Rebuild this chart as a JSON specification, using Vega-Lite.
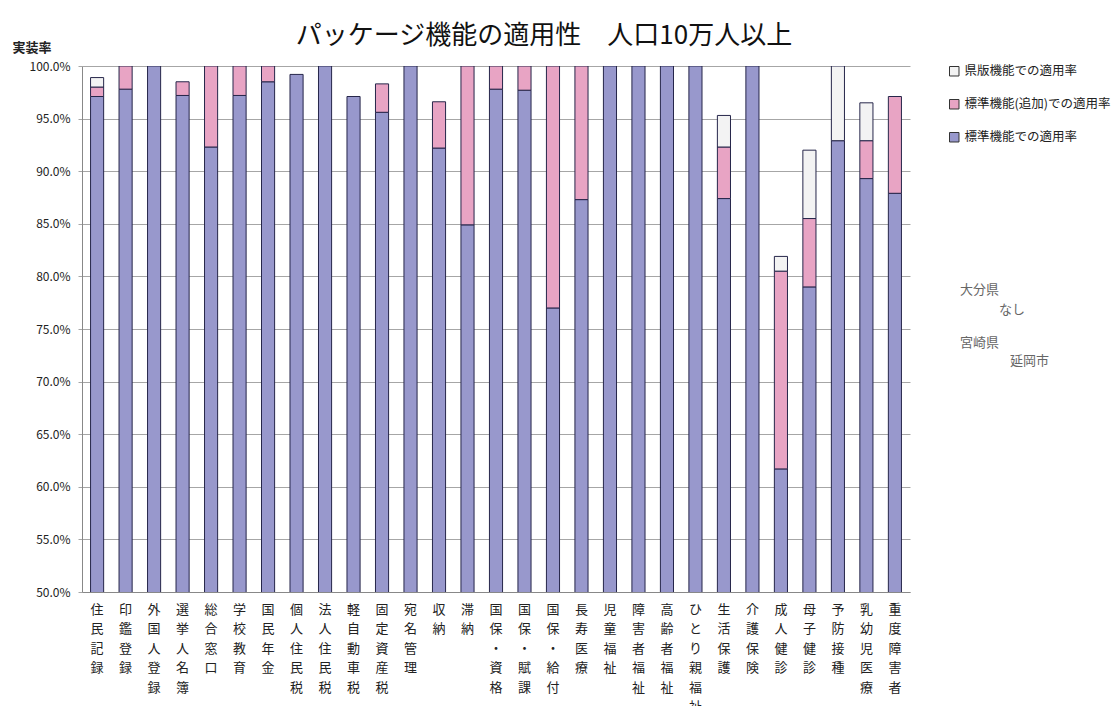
{
  "$schema": "https://vega.github.io/schema/vega-lite/v6.json",
  "width": 828,
  "height": 526,
  "autosize": "none",
  "padding": {"left": 82, "top": 66, "right": 201, "bottom": 114},
  "background": "white",
  "config": {"font": "Noto Sans CJK JP", "view": {"stroke": null}},
  "title": {"text": "パッケージ機能の適用性　人口10万人以上", "fontSize": 26, "fontWeight": "normal", "color": "#111", "anchor": "middle", "dx": 48, "offset": -8},
  "datasets": {
    "rates": [
      {"業務": "住民記録", "系列": "標準機能での適用率", "率": 0.971},
      {"業務": "住民記録", "系列": "標準機能（追加）での適用率", "率": 0.009},
      {"業務": "住民記録", "系列": "県版機能での適用率", "率": 0.009},
      {"業務": "印鑑登録", "系列": "標準機能での適用率", "率": 0.978},
      {"業務": "印鑑登録", "系列": "標準機能（追加）での適用率", "率": 0.022},
      {"業務": "外国人登録", "系列": "標準機能での適用率", "率": 1.0},
      {"業務": "選挙人名簿", "系列": "標準機能での適用率", "率": 0.972},
      {"業務": "選挙人名簿", "系列": "標準機能（追加）での適用率", "率": 0.013},
      {"業務": "総合窓口", "系列": "標準機能での適用率", "率": 0.923},
      {"業務": "総合窓口", "系列": "標準機能（追加）での適用率", "率": 0.077},
      {"業務": "学校教育", "系列": "標準機能での適用率", "率": 0.972},
      {"業務": "学校教育", "系列": "標準機能（追加）での適用率", "率": 0.028},
      {"業務": "国民年金", "系列": "標準機能での適用率", "率": 0.985},
      {"業務": "国民年金", "系列": "標準機能（追加）での適用率", "率": 0.015},
      {"業務": "個人住民税", "系列": "標準機能での適用率", "率": 0.992},
      {"業務": "法人住民税", "系列": "標準機能での適用率", "率": 1.0},
      {"業務": "軽自動車税", "系列": "標準機能での適用率", "率": 0.971},
      {"業務": "固定資産税", "系列": "標準機能での適用率", "率": 0.956},
      {"業務": "固定資産税", "系列": "標準機能（追加）での適用率", "率": 0.027},
      {"業務": "宛名管理", "系列": "標準機能での適用率", "率": 1.0},
      {"業務": "収納", "系列": "標準機能での適用率", "率": 0.922},
      {"業務": "収納", "系列": "標準機能（追加）での適用率", "率": 0.044},
      {"業務": "滞納", "系列": "標準機能での適用率", "率": 0.849},
      {"業務": "滞納", "系列": "標準機能（追加）での適用率", "率": 0.151},
      {"業務": "国保・資格", "系列": "標準機能での適用率", "率": 0.978},
      {"業務": "国保・資格", "系列": "標準機能（追加）での適用率", "率": 0.022},
      {"業務": "国保・賦課", "系列": "標準機能での適用率", "率": 0.977},
      {"業務": "国保・賦課", "系列": "標準機能（追加）での適用率", "率": 0.023},
      {"業務": "国保・給付", "系列": "標準機能での適用率", "率": 0.770},
      {"業務": "国保・給付", "系列": "標準機能（追加）での適用率", "率": 0.230},
      {"業務": "長寿医療", "系列": "標準機能での適用率", "率": 0.873},
      {"業務": "長寿医療", "系列": "標準機能（追加）での適用率", "率": 0.127},
      {"業務": "児童福祉", "系列": "標準機能での適用率", "率": 1.0},
      {"業務": "障害者福祉", "系列": "標準機能での適用率", "率": 1.0},
      {"業務": "高齢者福祉", "系列": "標準機能での適用率", "率": 1.0},
      {"業務": "ひとり親福祉", "系列": "標準機能での適用率", "率": 1.0},
      {"業務": "生活保護", "系列": "標準機能での適用率", "率": 0.874},
      {"業務": "生活保護", "系列": "標準機能（追加）での適用率", "率": 0.049},
      {"業務": "生活保護", "系列": "県版機能での適用率", "率": 0.030},
      {"業務": "介護保険", "系列": "標準機能での適用率", "率": 1.0},
      {"業務": "成人健診", "系列": "標準機能での適用率", "率": 0.617},
      {"業務": "成人健診", "系列": "標準機能（追加）での適用率", "率": 0.188},
      {"業務": "成人健診", "系列": "県版機能での適用率", "率": 0.014},
      {"業務": "母子健診", "系列": "標準機能での適用率", "率": 0.790},
      {"業務": "母子健診", "系列": "標準機能（追加）での適用率", "率": 0.065},
      {"業務": "母子健診", "系列": "県版機能での適用率", "率": 0.065},
      {"業務": "予防接種", "系列": "標準機能での適用率", "率": 0.929},
      {"業務": "予防接種", "系列": "県版機能での適用率", "率": 0.071},
      {"業務": "乳幼児医療", "系列": "標準機能での適用率", "率": 0.893},
      {"業務": "乳幼児医療", "系列": "標準機能（追加）での適用率", "率": 0.036},
      {"業務": "乳幼児医療", "系列": "県版機能での適用率", "率": 0.036},
      {"業務": "重度障害者", "系列": "標準機能での適用率", "率": 0.879},
      {"業務": "重度障害者", "系列": "標準機能（追加）での適用率", "率": 0.092}
    ]
  },
  "layer": [
    {
      "data": {"name": "rates"},
      "mark": {"type": "bar", "clip": true, "stroke": "#26264a", "strokeWidth": 1},
      "encoding": {
        "x": {
          "field": "業務", "type": "nominal", "sort": null,
          "scale": {"paddingInner": 0.54, "paddingOuter": 0.3},
          "axis": {"title": null, "labelAngle": 0, "labelExpr": "split(datum.label, '')", "labelBaseline": "top", "labelAlign": "center", "labelLineHeight": 19.5, "labelFontSize": 13, "labelPadding": 11, "ticks": false, "domainColor": "#888", "labelColor": "#222", "labelOverlap": false, "labelLimit": 0}
        },
        "y": {
          "field": "率", "type": "quantitative", "stack": "zero",
          "scale": {"domain": [0.5, 1.0], "zero": false, "nice": false},
          "axis": {"values": [0.5, 0.55, 0.6, 0.65, 0.7, 0.75, 0.8, 0.85, 0.9, 0.95, 1.0], "format": ".1%", "gridColor": "#a6a6a6", "tickColor": "#a6a6a6", "tickSize": 4, "labelPadding": 8, "labelFontSize": 12, "labelColor": "#222", "domainColor": "#888", "title": "実装率", "titleAngle": 0, "titleX": -70, "titleY": -19, "titleAlign": "left", "titleBaseline": "middle", "titleFontSize": 13, "titleFontWeight": "bold", "titleColor": "#222"}
        },
        "color": {
          "field": "系列", "type": "nominal",
          "scale": {"domain": ["県版機能での適用率", "標準機能（追加）での適用率", "標準機能での適用率"], "range": ["#f3f3f3", "#e8a4c4", "#9898cc"]},
          "legend": {"orient": "none", "legendX": 866, "legendY": -1, "title": null, "symbolType": "square", "symbolSize": 90, "symbolStrokeColor": "#333", "symbolStrokeWidth": 1, "labelFontSize": 12.5, "labelColor": "#222", "rowPadding": 19, "labelLimit": 0, "labelExpr": "replace(replace(datum.label, '（', '('), '）', ')')"}
        },
        "order": {"field": "系列", "sort": "ascending"}
      }
    },
    {
      "data": {"values": [{"注記": "大分県"}]},
      "mark": {"type": "text", "align": "left", "baseline": "middle", "fontSize": 13, "color": "#666", "dx": 50},
      "encoding": {"text": {"field": "注記"}, "x": {"value": "width"}, "y": {"datum": 0.787}}
    },
    {
      "data": {"values": [{"注記": "なし"}]},
      "mark": {"type": "text", "align": "left", "baseline": "middle", "fontSize": 13, "color": "#666", "dx": 89},
      "encoding": {"text": {"field": "注記"}, "x": {"value": "width"}, "y": {"datum": 0.768}}
    },
    {
      "data": {"values": [{"注記": "宮崎県"}]},
      "mark": {"type": "text", "align": "left", "baseline": "middle", "fontSize": 13, "color": "#666", "dx": 50},
      "encoding": {"text": {"field": "注記"}, "x": {"value": "width"}, "y": {"datum": 0.737}}
    },
    {
      "data": {"values": [{"注記": "延岡市"}]},
      "mark": {"type": "text", "align": "left", "baseline": "middle", "fontSize": 13, "color": "#666", "dx": 100},
      "encoding": {"text": {"field": "注記"}, "x": {"value": "width"}, "y": {"datum": 0.720}}
    }
  ]
}
